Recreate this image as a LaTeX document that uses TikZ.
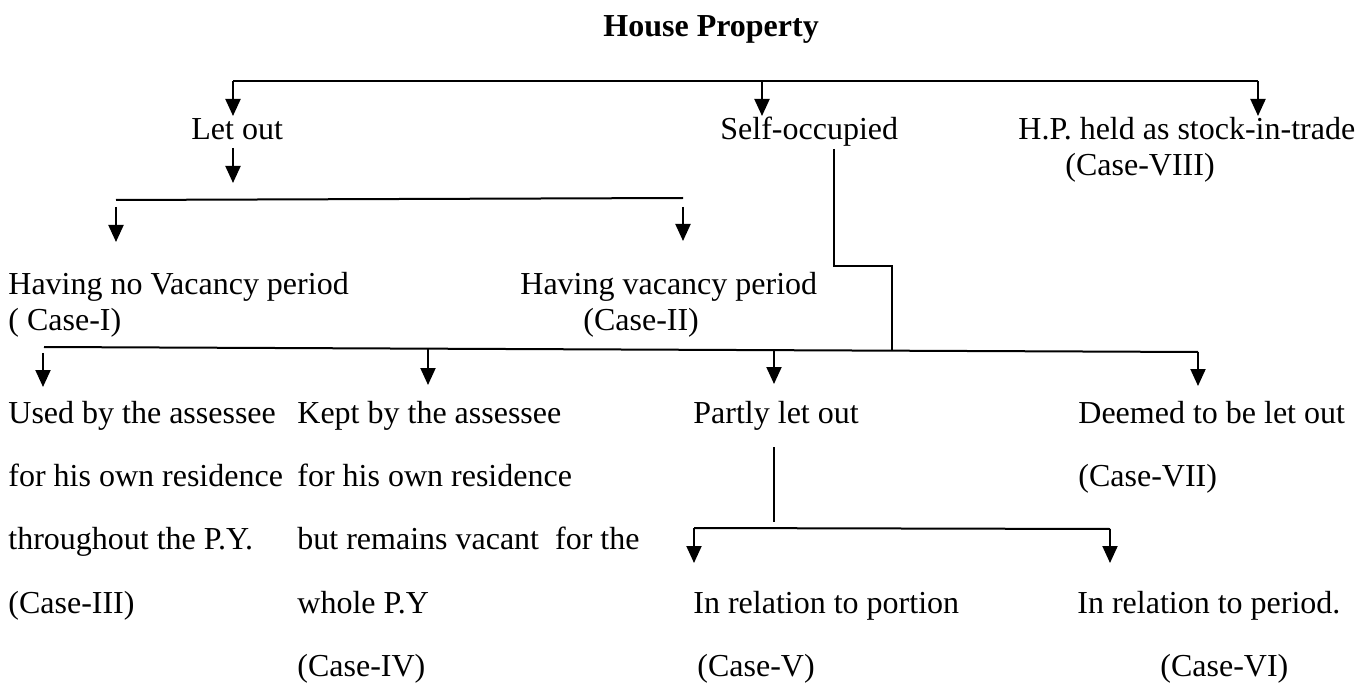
\documentclass[tikz,border=0pt]{standalone}
\usepackage{fontspec}
\setmainfont{Liberation Serif}
\usetikzlibrary{arrows.meta}
\begin{document}
\begin{tikzpicture}[x=0.5pt,y=-0.5pt,
  txt/.style={anchor=base west,inner sep=0pt,font=\fontsize{16}{18}\selectfont},
  ttl/.style={anchor=base west,inner sep=0pt,font=\fontsize{16}{18}\selectfont\bfseries},
  ln/.style={line width=1pt},
  thin/.style={line width=0.6pt},
  arr/.style={line width=1pt,-{Triangle[width=7.5pt,length=8.5pt]}}]
\useasboundingbox (0,0) rectangle (1371,684);
% texts
\node[ttl] (title) at (603,37) {House Property};
\node[txt] (letout) at (191,140) {Let out};
\node[txt] (self) at (720,140) {Self-occupied};
\node[txt] (hp) at (1018,140) {H.P. held as stock-in-trade};
\node[txt] (c8) at (1065,176) {(Case-VIII)};
\node[txt] (novac) at (8,295) {Having no Vacancy period};
\node[txt] (c1) at (8,330) {( Case-I)};
\node[txt] (vac) at (520,295) {Having vacancy period};
\node[txt] (c2) at (583,330) {(Case-II)};
\node[txt] (used1) at (8,423) {Used by the assessee};
\node[txt] (used2) at (8,486) {for his own residence};
\node[txt] (used3) at (8,549) {throughout the P.Y.};
\node[txt] (c3) at (8,613) {(Case-III)};
\node[txt] (kept1) at (297,423) {Kept by the assessee};
\node[txt] (kept2) at (297,486) {for his own residence};
\node[txt] (kept3) at (297,549) {but remains vacant\ \ for the};
\node[txt] (kept4) at (297,613) {whole P.Y};
\node[txt] (c4) at (297,676) {(Case-IV)};
\node[txt] (partly) at (693,423) {Partly let out};
\node[txt] (deemed) at (1078,423) {Deemed to be let out};
\node[txt] (c7) at (1078,486) {(Case-VII)};
\node[txt] (portion) at (693,613) {In relation to portion};
\node[txt] (c5) at (697,676) {(Case-V)};
\node[txt] (period) at (1077,613) {In relation to period.};
\node[txt] (c6) at (1160,676) {(Case-VI)};
% junction coordinates
\coordinate (t1) at (233,81);
\coordinate (t2) at (762,81);
\coordinate (t3) at (1258,81);
\coordinate (a1) at (233,116);
\coordinate (a2) at (762,116);
\coordinate (a3) at (1258,116);
\coordinate (lo1) at (233,148);
\coordinate (lo2) at (233,183);
\coordinate (m1) at (116,200);
\coordinate (m2) at (683,198);
\coordinate (m1a) at (116,207);
\coordinate (m1b) at (116,242);
\coordinate (m2a) at (683,207);
\coordinate (m2b) at (683,241);
\coordinate (s1) at (834,149);
\coordinate (s2) at (834,266);
\coordinate (s3) at (892,266);
\coordinate (s4) at (892,350);
\coordinate (b1) at (44,347);
\coordinate (b4) at (1198,352);
\coordinate (b1a) at (43,353);
\coordinate (b1b) at (43,387);
\coordinate (b2a) at (428,349);
\coordinate (b2b) at (428,385);
\coordinate (b3a) at (774,350);
\coordinate (b3b) at (774,384);
\coordinate (b4b) at (1198,386);
\coordinate (p1) at (774,447);
\coordinate (p2) at (774,522);
\coordinate (q1) at (694,528);
\coordinate (q2) at (1110,529);
\coordinate (q1b) at (694,563);
\coordinate (q2b) at (1110,563);
% connectors
\draw[ln] (t1) -- (t3);
\draw[arr] (t1) -- (a1);
\draw[arr] (t2) -- (a2);
\draw[arr] (t3) -- (a3);
\draw[arr] (lo1) -- (lo2);
\draw[ln] (m1) -- (m2);
\draw[arr] (m1a) -- (m1b);
\draw[arr] (m2a) -- (m2b);
\draw[thin] (s1) -- (s2) -- (s3) -- (s4);
\draw[ln] (b1) -- (b4);
\draw[arr] (b1a) -- (b1b);
\draw[arr] (b2a) -- (b2b);
\draw[arr] (b3a) -- (b3b);
\draw[arr] (b4) -- (b4b);
\draw[ln] (p1) -- (p2);
\draw[ln] (q1) -- (q2);
\draw[arr] (q1) -- (q1b);
\draw[arr] (q2) -- (q2b);
\end{tikzpicture}
\end{document}
